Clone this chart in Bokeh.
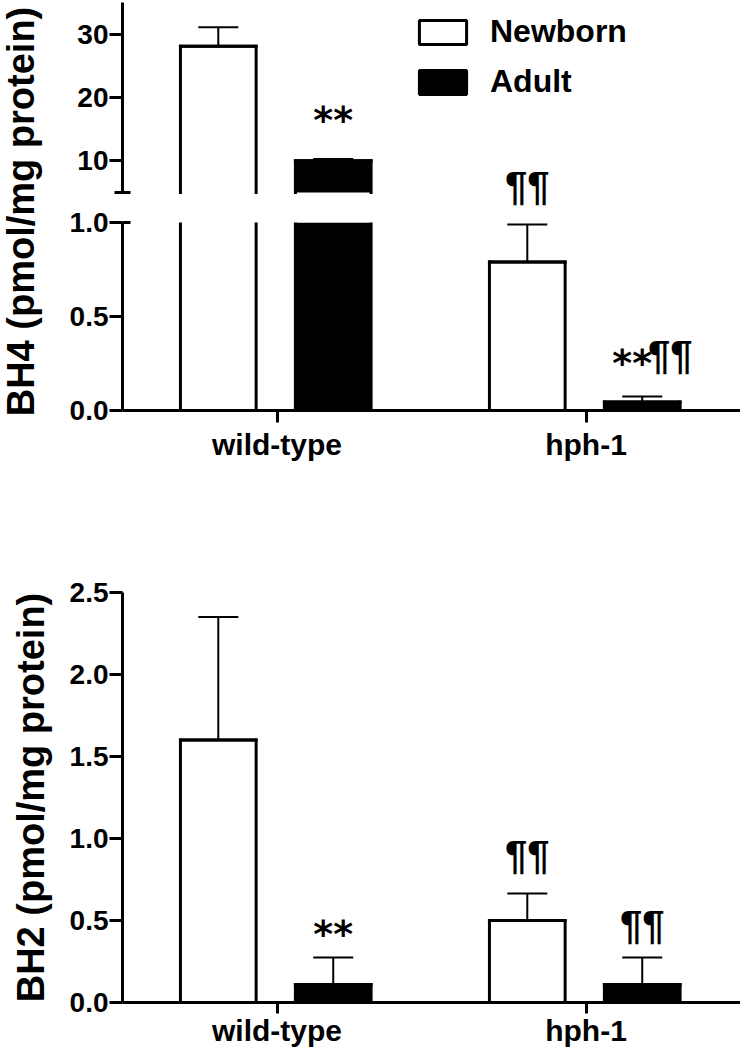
from bokeh.plotting import figure
from bokeh.layouts import column, row
from bokeh.models import (ColumnDataSource, FactorRange, Range1d, FixedTicker,
                          NumeralTickFormatter, Whisker, TeeHead, LabelSet, Label,
                          Legend, LegendItem)
from bokeh.transform import dodge
from bokeh.core.properties import value
from bokeh.embed import file_html
from bokeh.resources import INLINE

# ---------------- data ----------------
categories = ["wild-type", "hph-1"]
series = ["Newborn", "Adult"]

bh4_newborn = [28.1, 0.79]
bh4_newborn_sem = [3.0, 0.20]
bh4_adult = [10.0, 0.045]
bh4_adult_sem = [0.3, 0.03]

bh2_newborn = [1.60, 0.50]
bh2_newborn_sem = [0.75, 0.165]
bh2_adult = [0.11, 0.11]
bh2_adult_sem = [0.165, 0.165]

# significance marks: ** vs newborn, ¶¶ vs wild-type
bh4_stars = {"Newborn": ["", ""], "Adult": ["**", "**"]}
bh4_pilcrows = {"Newborn": ["", "¶¶"], "Adult": ["", "¶¶"]}
bh2_stars = {"Newborn": ["", ""], "Adult": ["**", ""]}
bh2_pilcrows = {"Newborn": ["", "¶¶"], "Adult": ["", "¶¶"]}

bh4_upper_ticks = [10, 20, 30]
bh4_lower_ticks = [0.0, 0.5, 1.0]
bh2_ticks = [0.0, 0.5, 1.0, 1.5, 2.0, 2.5]
bh4_break = (1.0, 5)          # axis break: lower segment ends, upper segment starts
bh4_top = 35
bh2_top = 2.5
bh4_label = "BH4 (pmol/mg protein)"
bh2_label = "BH2 (pmol/mg protein)"

# ---------------- style / geometry ----------------
FONT = "Liberation Sans"
STAR_FONT = "DejaVu Sans"
OFF = {"Newborn": -0.19, "Adult": 0.182}
FILL = {"Newborn": "white", "Adult": "black"}
BAR_W = 0.245
LAB_W = 60
UP_TOP = 2             # px above upper frame
UP_SEG_H = 190         # px of the upper axis segment
UP_EXT = 16            # px the upper frame continues below the break
LOW_B_TOP = 14         # px above lower frame
LOW_H = 188            # px of lower axis segment
LOW_FIG_H = 272
BREAK_PX = UP_EXT + LOW_B_TOP   # distance between the two axis segments
# pixel offsets of marks (baseline above error-bar top)
bh4_star_dy = {"Newborn": [0, 0], "Adult": [26, 20]}
bh4_star_dx = {"Newborn": [0, 0], "Adult": [0, -10]}
bh4_pil_dy = {"Newborn": [0, 24.5], "Adult": [0, 27]}
bh4_pil_dx = {"Newborn": [0, 0], "Adult": [0, 28]}
bh2_star_dy = {"Newborn": [0, 0], "Adult": [10, 0]}
bh2_star_dx = {"Newborn": [0, 0], "Adult": [0, 0]}
bh2_pil_dy = {"Newborn": [0, 24], "Adult": [0, 18]}
bh2_pil_dx = {"Newborn": [0, 0], "Adult": [0, 0]}
# lower-segment marks that sit inside the axis break (drawn by the upper panel)
bh4_break_marks = {("Newborn", "hph-1")}


def style_yaxis(ax, ticks, minor, fmt, tin=8, tout=8, bounds=None):
    ax.ticker = FixedTicker(ticks=ticks, minor_ticks=minor)
    ax.formatter = NumeralTickFormatter(format=fmt)
    if bounds:
        ax.bounds = bounds
    ax.axis_line_width = 3
    ax.major_tick_line_width = 3
    ax.major_tick_in = 0
    ax.major_tick_out = 13
    ax.minor_tick_line_width = 3
    ax.minor_tick_in = tin
    ax.minor_tick_out = tout
    ax.major_label_text_font = FONT
    ax.major_label_text_font_style = "bold"
    ax.major_label_text_font_size = "28px"
    ax.major_label_text_color = "black"
    ax.major_label_standoff = 1


def style_xaxis(ax, standoff, tick_out=12):
    ax.axis_line_width = 3
    ax.major_tick_line_width = 3
    ax.major_tick_in = 0
    ax.major_tick_out = tick_out
    ax.minor_tick_line_color = None
    ax.major_label_text_font = FONT
    ax.major_label_text_font_style = "bold"
    ax.major_label_text_font_size = "30px"
    ax.major_label_text_color = "black"
    ax.major_label_standoff = standoff


def add_marks(p, rows, font, size):
    for xo in sorted(set(r[1] for r in rows)):
        sub = [r for r in rows if r[1] == xo]
        src = ColumnDataSource(dict(
            cat=[r[0] for r in sub], y=[r[2] for r in sub], text=[r[3] for r in sub],
            dy=[r[4] for r in sub], dx=[r[5] for r in sub]))
        p.add_layout(LabelSet(x=dodge("cat", xo, range=p.x_range), y="y", text="text",
                              y_offset="dy", x_offset="dx", source=src,
                              text_align="center", text_baseline="alphabetic",
                              text_font=value(font), text_font_style="bold",
                              text_font_size=size, text_color="black"))


def draw(p, data, marks, base, lo, hi, extra=None):
    """Bars (open at an axis break), error bars and marks for values shown in [lo, hi]."""
    stars, sdy, sdx, pils, pdy, pdx, skip = marks
    star_rows, pil_rows = [], []
    top_renderers = {}
    for s in series:
        vals, sems = data[s]
        bars = [i for i in range(len(categories)) if vals[i] > lo]
        src = ColumnDataSource(dict(cat=[categories[i] for i in bars],
                                    val=[vals[i] for i in bars],
                                    base=[base] * len(bars)))
        p.vbar(x=dodge("cat", OFF[s], range=p.x_range), top="val", bottom="base",
               width=BAR_W, source=src, fill_color=FILL[s], line_color=None)
        # outline: two sides + top edge (no edge at the break)
        for side in (-BAR_W / 2, BAR_W / 2):
            p.segment(x0=dodge("cat", OFF[s] + side, range=p.x_range), y0="base",
                      x1=dodge("cat", OFF[s] + side, range=p.x_range), y1="val",
                      source=src, line_color="black", line_width=3, line_cap="square")
        tops = [i for i in bars if vals[i] <= hi]
        tsrc = ColumnDataSource(dict(cat=[categories[i] for i in tops],
                                     val=[vals[i] for i in tops]))
        p.segment(x0=dodge("cat", OFF[s] - BAR_W / 2, range=p.x_range), y0="val",
                  x1=dodge("cat", OFF[s] + BAR_W / 2, range=p.x_range), y1="val",
                  source=tsrc, line_color="black", line_width=3, line_cap="square")
        # zero-height bar on the top edge: carries the bar style for the legend
        top_renderers[s] = p.vbar(x=dodge("cat", OFF[s], range=p.x_range), top="val",
                                  bottom="val", width=BAR_W, source=tsrc,
                                  fill_color=FILL[s], line_color="black", line_width=3)
        keep = [i for i in range(len(categories)) if lo <= vals[i] + sems[i] <= hi]
        wsrc = ColumnDataSource(dict(
            cat=[categories[i] for i in keep],
            lower=[vals[i] for i in keep],
            upper=[vals[i] + sems[i] for i in keep]))
        p.add_layout(Whisker(source=wsrc, base=dodge("cat", OFF[s], range=p.x_range),
                             lower="lower", upper="upper", dimension="height",
                             line_width=2, line_color="black",
                             upper_head=TeeHead(size=40, line_width=2, line_color="black"),
                             lower_head=None))
        for i in keep:
            if (s, categories[i]) in skip:
                continue
            t = vals[i] + sems[i]
            if stars[s][i]:
                star_rows.append((categories[i], OFF[s], t, stars[s][i], sdy[s][i], sdx[s][i]))
            if pils[s][i]:
                pil_rows.append((categories[i], OFF[s], t, pils[s][i], pdy[s][i], pdx[s][i]))
    if extra:
        star_rows += extra[0]
        pil_rows += extra[1]
    add_marks(p, star_rows, STAR_FONT, "38px")
    add_marks(p, pil_rows, FONT, "40px")
    return top_renderers


def base_fig(**kw):
    p = figure(toolbar_location=None, output_backend="svg", **kw)
    p.outline_line_color = None
    p.grid.visible = False
    p.background_fill_color = "white"
    p.border_fill_color = "white"
    return p


bh4_data = {"Newborn": (bh4_newborn, bh4_newborn_sem), "Adult": (bh4_adult, bh4_adult_sem)}
bh2_data = {"Newborn": (bh2_newborn, bh2_newborn_sem), "Adult": (bh2_adult, bh2_adult_sem)}
bh4_marks = (bh4_stars, bh4_star_dy, bh4_star_dx, bh4_pilcrows, bh4_pil_dy, bh4_pil_dx)
bh2_marks = (bh2_stars, bh2_star_dy, bh2_star_dx, bh2_pilcrows, bh2_pil_dy, bh2_pil_dx)

low_lo, up_lo = 0, bh4_break[1]
up_ppu = UP_SEG_H / (bh4_top - up_lo)
low_ppu = LOW_H / (bh4_break[0] - low_lo)
up_start = up_lo - UP_EXT / up_ppu

# lower-segment marks that fall inside the break: anchored on the upper segment's end
break_star, break_pil = [], []
for s in series:
    vals, sems = bh4_data[s]
    for i, c in enumerate(categories):
        if (s, c) in bh4_break_marks:
            t = vals[i] + sems[i]
            shift = BREAK_PX + (bh4_break[0] - t) * low_ppu
            if bh4_stars[s][i]:
                break_star.append((c, OFF[s], up_lo, bh4_stars[s][i],
                                   bh4_star_dy[s][i] - shift, bh4_star_dx[s][i]))
            if bh4_pilcrows[s][i]:
                break_pil.append((c, OFF[s], up_lo, bh4_pilcrows[s][i],
                                  bh4_pil_dy[s][i] - shift, bh4_pil_dx[s][i]))

# ---- BH4 upper segment ----
p_up = base_fig(width=740 - LAB_W, height=UP_TOP + UP_SEG_H + UP_EXT,
                x_range=FactorRange(factors=categories),
                y_range=Range1d(up_start, bh4_top), x_axis_location=None,
                min_border_left=122 - LAB_W, min_border_right=0, min_border_top=UP_TOP,
                min_border_bottom=0)
style_yaxis(p_up.yaxis[0], bh4_upper_ticks, [up_lo], "0", tin=8, tout=8,
            bounds=(up_lo, bh4_top))
leg_r = draw(p_up, bh4_data, bh4_marks + (set(),), up_lo, up_lo, bh4_top,
             extra=(break_star, break_pil))
legend = Legend(items=[LegendItem(label=s, renderers=[leg_r[s]]) for s in series],
                location=(291, 92 + UP_EXT), glyph_width=59, glyph_height=30,
                label_standoff=18, spacing=13, padding=0, margin=0,
                label_height=30,
                border_line_color=None, background_fill_alpha=0,
                label_text_font=FONT, label_text_font_style="bold",
                label_text_font_size="32px", label_text_color="black")
p_up.add_layout(legend)

# ---- BH4 lower segment ----
p_low = base_fig(width=740 - LAB_W, height=LOW_FIG_H, x_range=FactorRange(factors=categories),
                 y_range=Range1d(low_lo, bh4_break[0]),
                 min_border_left=122 - LAB_W, min_border_right=0, min_border_top=LOW_B_TOP,
                 min_border_bottom=LOW_FIG_H - LOW_B_TOP - LOW_H)
style_yaxis(p_low.yaxis[0], bh4_lower_ticks, [bh4_break[0]], "0.0", tin=8, tout=0)
style_xaxis(p_low.xaxis[0], 5)
draw(p_low, bh4_data, bh4_marks + (bh4_break_marks,), low_lo, low_lo, bh4_break[0])

# ---- BH4 axis title ----
top_h = UP_TOP + UP_SEG_H + UP_EXT + LOW_FIG_H
p_lab = base_fig(width=LAB_W, height=top_h, x_range=Range1d(0, LAB_W),
                 y_range=Range1d(0, top_h),
                 x_axis_location=None, y_axis_location=None, min_border=0)
p_lab.add_layout(Label(x=20, y=top_h - 211, text=bh4_label, angle=90, angle_units="deg",
                       text_align="center", text_baseline="alphabetic",
                       text_font=FONT, text_font_style="bold",
                       text_font_size="38px", text_color="black"))

# ---- BH2 ----
p2_h = 1050 - top_h
p2 = base_fig(width=740, height=p2_h, x_range=FactorRange(factors=categories),
              y_range=Range1d(0, bh2_top),
              min_border_left=122, min_border_right=0, min_border_top=p2_h - 410 - 48,
              min_border_bottom=48)
style_yaxis(p2.yaxis[0], bh2_ticks, [], "0.0", tin=0, tout=0)
style_xaxis(p2.xaxis[0], 0, tick_out=11)
p2.yaxis[0].axis_label = bh2_label
p2.yaxis[0].axis_label_text_font = FONT
p2.yaxis[0].axis_label_text_font_style = "bold"
p2.yaxis[0].axis_label_text_font_size = "38px"
p2.yaxis[0].axis_label_text_color = "black"
p2.yaxis[0].axis_label_standoff = 15
draw(p2, bh2_data, bh2_marks + (set(),), 0, 0, bh2_top)

layout = column(row(p_lab, column(p_up, p_low)), p2)
open("out.html", "w").write(file_html(layout, INLINE))
